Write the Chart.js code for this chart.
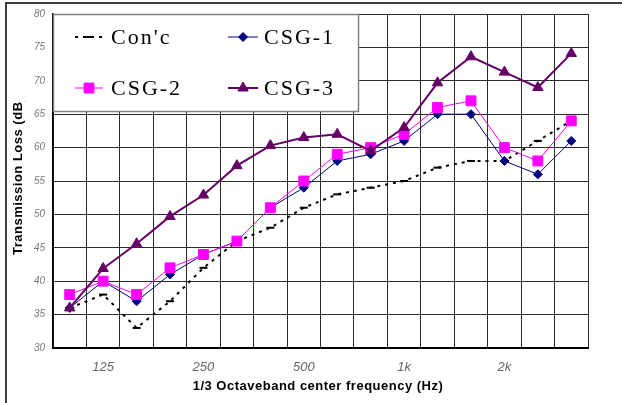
<!DOCTYPE html>
<html>
<head>
<meta charset="utf-8">
<script src="https://cdn.jsdelivr.net/npm/chart.js@4"></script>
<style>
  html, body { margin: 0; padding: 0; background: #fff; }
  #wrap { width: 622px; height: 403px; position: relative; }
</style>
</head>
<body>
<div id="wrap"><canvas id="c" width="622" height="403"></canvas></div>
<script>
// 1/3 octave band centre frequencies and the labels shown under the axis
const freqs = ['100', '125', '160', '200', '250', '315', '400', '500', '630', '800', '1k', '1.25k', '1.6k', '2k', '2.5k', '3.15k'];
const tickLabels = ['', '125', '', '', '250', '', '', '500', '', '', '1k', '', '', '2k', '', ''];

// Transmission loss (dB) per band
const seriesNames = ["Con'c", 'CSG-1', 'CSG-2', 'CSG-3'];
const conc = [36, 38, 33, 37, 42, 46, 48, 51, 53, 54, 55, 57, 58, 58, 61, 64];
const csg1 = [36, 40, 37, 41, 44, 46, 51, 54, 58, 59, 61, 65, 65, 58, 56, 61];
const csg2 = [38, 40, 38, 42, 44, 46, 51, 55, 59, 60, 62, 66, 67, 60, 58, 64];
const csg3 = [36, 41.9, 45.6, 49.7, 52.9, 57.3, 60.3, 61.5, 62, 59.5, 63, 69.7, 73.6, 71.3, 69, 74.1];

const yTitle = 'Transmission Loss (dB)';
const xTitle = '1/3 Octaveband center frequency (Hz)';

const NAVY = '#000080', MAGENTA = '#FF00FF', PURPLE = '#660066';

const datasets = [
  { label: seriesNames[0], data: conc, borderColor: '#000', backgroundColor: '#000', borderWidth: 2,
    borderDash: [3, 5], pointStyle: 'line', pointRadius: 4, pointBorderWidth: 2, order: 4 },
  { label: seriesNames[1], data: csg1, borderColor: NAVY, backgroundColor: NAVY, borderWidth: 1,
    pointStyle: 'rectRot', pointRadius: 4.5, pointBorderWidth: 1, order: 3 },
  { label: seriesNames[2], data: csg2, borderColor: MAGENTA, backgroundColor: MAGENTA, borderWidth: 1,
    pointStyle: 'rect', pointRadius: 7, pointBorderWidth: 1, order: 2 },
  { label: seriesNames[3], data: csg3, borderColor: PURPLE, backgroundColor: PURPLE, borderWidth: 2,
    pointStyle: 'triangle', pointRadius: 6, pointBorderWidth: 1, order: 1 }
];
datasets.forEach(d => { d.tension = 0; d.fill = false; d.pointHoverRadius = d.pointRadius; });

// Framed legend box in the upper-left of the plot, painted over the grid
const boxLegend = {
  id: 'boxLegend',
  beforeDatasetsDraw(chart) {
    const ctx = chart.ctx;
    const area = chart.chartArea;
    const x0 = area.left, y0 = area.top, x1 = 359, y1 = 112;
    ctx.save();
    ctx.fillStyle = '#fff';
    ctx.fillRect(x0, y0, x1 - x0, y1 - y0);
    ctx.strokeStyle = '#808080';
    ctx.lineWidth = 1.5;
    ctx.strokeRect(x0 + 0.5, y0 + 0.5, x1 - x0 - 1, y1 - y0 - 1);

    const slots = [
      { lx0: 75, lx1: 103, tx: 111, y: 37 },
      { lx0: 228, lx1: 258, tx: 264, y: 37 },
      { lx0: 75, lx1: 103, tx: 111, y: 88 },
      { lx0: 228, lx1: 258, tx: 264, y: 88 }
    ];
    chart.data.datasets.forEach((ds, i) => {
      const s = slots[i];
      ctx.save();
      ctx.strokeStyle = ds.borderColor;
      ctx.fillStyle = ds.backgroundColor;
      ctx.lineWidth = ds.borderWidth;
      ctx.setLineDash(ds.borderDash || []);
      ctx.beginPath();
      ctx.moveTo(s.lx0, s.y);
      ctx.lineTo(s.lx1, s.y);
      ctx.stroke();
      ctx.setLineDash([]);
      ctx.lineWidth = ds.pointBorderWidth;
      Chart.helpers.drawPoint(ctx, {
        pointStyle: ds.pointStyle, radius: ds.pointRadius, rotation: 0,
        borderWidth: ds.pointBorderWidth
      }, (s.lx0 + s.lx1) / 2, s.y);
      ctx.restore();

      ctx.save();
      ctx.fillStyle = '#000';
      ctx.font = '22px "Liberation Serif", serif';
      ctx.letterSpacing = '2px';
      ctx.textAlign = 'left';
      ctx.textBaseline = 'middle';
      ctx.fillText(ds.label, s.tx, s.y + 1);
      ctx.restore();
    });
    ctx.restore();
  }
};

// Axis titles and the page frame
const decorations = {
  id: 'decorations',
  afterDraw(chart) {
    const ctx = chart.ctx;
    ctx.save();
    ctx.strokeStyle = '#000';
    ctx.lineWidth = 1.5;
    ctx.beginPath();
    ctx.moveTo(6, 403);
    ctx.lineTo(6, 3);
    ctx.lineTo(622, 3);
    ctx.stroke();

    ctx.fillStyle = '#000';
    ctx.font = 'bold 13px "Liberation Sans", Arial, sans-serif';
    ctx.textBaseline = 'middle';
    ctx.textAlign = 'center';
    ctx.letterSpacing = '0.5px';
    ctx.fillText(xTitle, 318, 386);

    ctx.beginPath();
    ctx.rect(0, 101, 52, 302);
    ctx.clip();
    ctx.translate(18, 255);
    ctx.rotate(-Math.PI / 2);
    ctx.textAlign = 'left';
    ctx.fillText(yTitle, 0, 0);
    ctx.restore();
  }
};

new Chart(document.getElementById('c'), {
  type: 'line',
  data: { labels: freqs, datasets },
  options: {
    responsive: false,
    animation: false,
    devicePixelRatio: 1,
    layout: { padding: { left: 0, top: 10, right: 34, bottom: 0 } },
    plugins: { legend: { display: false }, tooltip: { enabled: false } },
    scales: {
      x: {
        type: 'category',
        offset: true,
        grid: { offset: true, color: '#2a2a2a', lineWidth: 1, drawTicks: false },
        border: { color: '#000', width: 2 },
        ticks: {
          autoSkip: false, maxRotation: 0, padding: 12,
          color: '#666',
          font: { family: '"Liberation Sans", Arial, sans-serif', size: 13, style: 'italic' },
          callback: (v, i) => tickLabels[i]
        },
        afterFit: s => { s.height = 55; }
      },
      y: {
        min: 30, max: 80,
        grid: { color: '#2a2a2a', lineWidth: 1, drawTicks: false },
        border: { color: '#000', width: 1.5 },
        ticks: {
          stepSize: 5, padding: 8, color: '#777',
          font: { family: '"Liberation Sans", Arial, sans-serif', size: 10, style: 'italic' }
        },
        afterFit: s => { s.width = 53; }
      }
    }
  },
  plugins: [boxLegend, decorations]
});
</script>
</body>
</html>
